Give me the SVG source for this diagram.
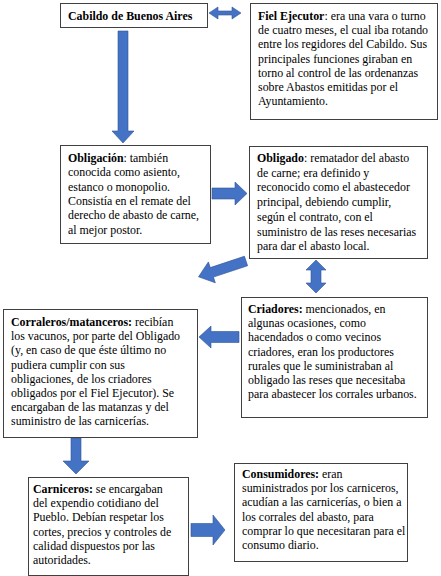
<svg xmlns="http://www.w3.org/2000/svg" width="441" height="576" viewBox="0 0 441 576">
<style>
.box{fill:#ffffff;stroke:#404040;stroke-width:1}
.t{font-family:"Liberation Serif","Times New Roman",serif;font-size:11.9px;fill:#000000}
.b{font-weight:bold}
.arr{fill:#4472C4;stroke:#2F5597;stroke-width:0.6}
</style>
<rect x="0" y="0" width="441" height="576" fill="#ffffff"/>
<g id="connectors">
<path class="arr" d="M209,13 L218,7 L218,11 L232,11 L232,7 L241,13 L232,19 L232,15 L218,15 L218,19 Z"/>
<path class="arr" d="M118,31 H128 V131 H134 L123,143 L112,131 H118 Z"/>
<path class="arr" d="M212,188 H235 V182 L247,193.5 L235,205 V199 H212 Z"/>
<path class="arr" d="M0,-5 H36 V-11 L50,0 L36,11 V5 H0 Z" transform="translate(246,261) rotate(161.6)"/>
<path class="arr" d="M316,260 L326,270 H321 V283 H326 L316,293 L306,283 H311 V270 H306 Z"/>
<path class="arr" d="M239,331.5 H211 V326 L199,337 L211,348 V342.5 H239 Z"/>
<path class="arr" d="M71,438 H81 V461 H89 L76,474 L63,461 H71 Z"/>
<path class="arr" d="M191,523.5 H213 V515 L225,530 L213,545 V536.5 H191 Z"/>
</g>
<g id="cabildo">
<rect class="box" x="60.5" y="3.5" width="147" height="24"/>
<text class="t b" x="68" y="19.5">Cabildo de Buenos Aires</text>
</g>
<g id="fiel">
<rect class="box" x="250.5" y="3.5" width="187" height="116"/>
<text class="t" x="258" y="20"><tspan class="b">Fiel Ejecutor</tspan>: era una vara o turno</text>
<text class="t" x="258" y="34.2">de cuatro meses, el cual iba rotando</text>
<text class="t" x="258" y="48.4">entre los regidores del Cabildo. Sus</text>
<text class="t" x="258" y="62.6">principales funciones giraban en</text>
<text class="t" x="258" y="76.8">torno al control de las ordenanzas</text>
<text class="t" x="258" y="91">sobre Abastos emitidas por el</text>
<text class="t" x="258" y="105.2">Ayuntamiento.</text>
</g>
<g id="obligacion">
<rect class="box" x="60.5" y="145.5" width="150" height="98"/>
<text class="t" x="68" y="162"><tspan class="b">Obligación</tspan>: también</text>
<text class="t" x="68" y="176.3">conocida como asiento,</text>
<text class="t" x="68" y="190.6">estanco o monopolio.</text>
<text class="t" x="68" y="204.9">Consistía en el remate del</text>
<text class="t" x="68" y="219.2">derecho de abasto de carne,</text>
<text class="t" x="68" y="233.5">al mejor postor.</text>
</g>
<g id="obligado">
<rect class="box" x="249.5" y="146.5" width="178" height="112"/>
<text class="t" x="257" y="162"><tspan class="b">Obligado</tspan>: rematador del abasto</text>
<text class="t" x="257" y="176.7">de carne; era definido y</text>
<text class="t" x="257" y="191.4">reconocido como el abastecedor</text>
<text class="t" x="257" y="206.1">principal, debiendo cumplir,</text>
<text class="t" x="257" y="220.8">según el contrato, con el</text>
<text class="t" x="257" y="235.5">suministro de las reses necesarias</text>
<text class="t" x="257" y="250.2">para dar el abasto local.</text>
</g>
<g id="criadores">
<rect class="box" x="241.5" y="297.5" width="186" height="120"/>
<text class="t" x="248" y="313"><tspan class="b">Criadores:</tspan> mencionados, en</text>
<text class="t" x="248" y="327.2">algunas ocasiones, como</text>
<text class="t" x="248" y="341.4">hacendados o como vecinos</text>
<text class="t" x="248" y="355.6">criadores, eran los productores</text>
<text class="t" x="248" y="369.8">rurales que le suministraban al</text>
<text class="t" x="248" y="384">obligado las reses que necesitaba</text>
<text class="t" x="248" y="398.2">para abastecer los corrales urbanos.</text>
</g>
<g id="corraleros">
<rect class="box" x="3.5" y="309.5" width="194" height="128"/>
<text class="t" x="11" y="326"><tspan class="b">Corraleros/matanceros:</tspan> recibían</text>
<text class="t" x="11" y="340.2">los vacunos, por parte del Obligado</text>
<text class="t" x="11" y="354.4">(y, en caso de que éste último no</text>
<text class="t" x="11" y="368.6">pudiera cumplir con sus</text>
<text class="t" x="11" y="382.8">obligaciones, de los criadores</text>
<text class="t" x="11" y="397">obligados por el Fiel Ejecutor). Se</text>
<text class="t" x="11" y="411.2">encargaban de las matanzas y del</text>
<text class="t" x="11" y="425.4">suministro de las carnicerías.</text>
</g>
<g id="carniceros">
<rect class="box" x="28.5" y="477.5" width="160" height="98"/>
<text class="t" x="33" y="493"><tspan class="b">Carniceros:</tspan> se encargaban</text>
<text class="t" x="33" y="507.2">del expendio cotidiano del</text>
<text class="t" x="33" y="521.4">Pueblo. Debían respetar los</text>
<text class="t" x="33" y="535.6">cortes, precios y controles de</text>
<text class="t" x="33" y="549.8">calidad dispuestos por las</text>
<text class="t" x="33" y="564">autoridades.</text>
</g>
<g id="consumidores">
<rect class="box" x="234.5" y="463.5" width="173" height="98"/>
<text class="t" x="242" y="478"><tspan class="b">Consumidores:</tspan> eran</text>
<text class="t" x="242" y="492.2">suministrados por los carniceros,</text>
<text class="t" x="242" y="506.4">acudían a las carnicerías, o bien a</text>
<text class="t" x="242" y="520.6">los corrales del abasto, para</text>
<text class="t" x="242" y="534.8">comprar lo que necesitaran para el</text>
<text class="t" x="242" y="549">consumo diario.</text>
</g>
</svg>
